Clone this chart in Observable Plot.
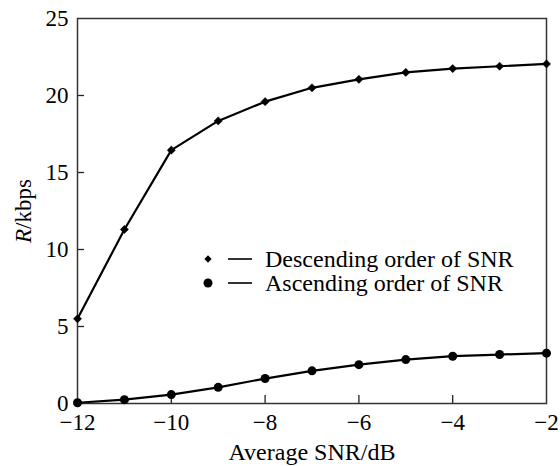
<!DOCTYPE html>
<html>
<head>
<meta charset="utf-8">
<script src="https://cdn.jsdelivr.net/npm/d3@7"></script>
<script src="https://cdn.jsdelivr.net/npm/@observablehq/plot@0.6"></script>
<style>
  html, body { margin: 0; padding: 0; background: #fff; }
  #wrap { position: relative; width: 560px; height: 466px; font-family: "Liberation Serif", "Times New Roman", serif; }
  #legend { position: absolute; left: 0; top: 0; pointer-events: none; }
</style>
</head>
<body>
<div id="wrap"></div>
<script>
const snr = [-12, -11, -10, -9, -8, -7, -6, -5, -4, -3, -2];
const descending = [5.5, 11.3, 16.45, 18.35, 19.6, 20.5, 21.05, 21.5, 21.75, 21.9, 22.05];
const ascending = [0.05, 0.25, 0.58, 1.05, 1.62, 2.12, 2.52, 2.85, 3.07, 3.18, 3.27];
const seriesNames = ["Descending order of SNR", "Ascending order of SNR"];
const xTicks = [-12, -10, -8, -6, -4, -2];
const yTicks = [0, 5, 10, 15, 20, 25];
const xLabel = "Average SNR/dB";
const yLabel = "R/kbps";

const desc = snr.map((x, i) => ({x, y: descending[i]}));
const asc = snr.map((x, i) => ({x, y: ascending[i]}));
const fmt = d => d < 0 ? "\u2212" + Math.abs(d) : String(d);

const chart = Plot.plot({
  width: 560,
  height: 466,
  marginLeft: 77,
  marginRight: 14,
  marginTop: 18,
  marginBottom: 63,
  style: {fontFamily: "'Liberation Serif', 'Times New Roman', serif", fontSize: "23px", color: "#000", background: "#fff"},
  x: {domain: [-12, -2]},
  y: {domain: [0, 25]},
  axis: null,
  marks: [
    Plot.axisX({ticks: xTicks, tickSize: 0, tickPadding: 10, tickFormat: fmt, label: null, fontSize: 23}),
    Plot.axisY({ticks: yTicks, tickSize: 0, tickPadding: 9, tickFormat: fmt, label: null, fontSize: 23}),
    Plot.tickX(xTicks.slice(1, -1), {x: d => d, stroke: "#222", strokeWidth: 1.3, insetTop: 377}),
    Plot.tickY(yTicks.slice(1, -1), {y: d => d, stroke: "#222", strokeWidth: 1.3, insetRight: 462}),
    Plot.frame({stroke: "#333", strokeWidth: 1.5}),
    Plot.line(desc, {x: "x", y: "y", stroke: "#000", strokeWidth: 2.2}),
    Plot.line(asc, {x: "x", y: "y", stroke: "#000", strokeWidth: 2.2}),
    Plot.dot(desc, {x: "x", y: "y", symbol: "diamond2", r: 3.7, fill: "#000", stroke: "#000", strokeWidth: 0.5}),
    Plot.dot(asc, {x: "x", y: "y", symbol: "circle", r: 4.5, fill: "#000"}),
    Plot.text([xLabel], {text: d => d, frameAnchor: "bottom", dy: 49, lineAnchor: "middle", textAnchor: "middle", fontSize: 24, fill: "#000"}),
    Plot.text([yLabel], {text: d => d, frameAnchor: "left", rotate: -90, dx: -54, lineAnchor: "middle", textAnchor: "middle", fontSize: 23, fill: "#000"})
  ]
});

document.getElementById("wrap").appendChild(chart);

// Italic R in the y-axis label
d3.select(chart).selectAll("text").filter(function() { return this.textContent === yLabel; })
  .each(function() {
    const t = d3.select(this);
    t.text(null);
    t.append("tspan").attr("font-style", "italic").text("R");
    t.append("tspan").text(yLabel.slice(1));
  });

// Legend (inside the plot area)
const legend = d3.select("#wrap").append("svg")
  .attr("id", "legend").attr("width", 560).attr("height", 466);
const rows = [
  {name: seriesNames[0], symbol: d3.symbolDiamond2, size: 34},
  {name: seriesNames[1], symbol: d3.symbolCircle, size: Math.PI * 4.5 * 4.5}
];
const rowY = [259, 283];
rows.forEach((r, i) => {
  const g = legend.append("g").attr("transform", `translate(0,${rowY[i]})`);
  g.append("path").attr("d", d3.symbol(r.symbol, r.size)()).attr("transform", "translate(208,0)").attr("fill", "#000");
  g.append("line").attr("x1", 228).attr("x2", 252).attr("y1", 0).attr("y2", 0).attr("stroke", "#000").attr("stroke-width", 1.6);
  g.append("text").attr("x", 265).attr("dy", "0.34em")
    .attr("font-family", "'Liberation Serif', 'Times New Roman', serif").attr("font-size", 24).attr("fill", "#000")
    .text(r.name);
});
</script>
</body>
</html>
